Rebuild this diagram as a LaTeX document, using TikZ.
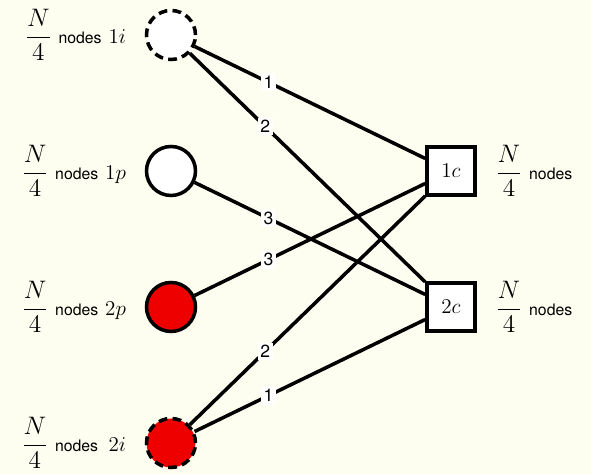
\documentclass[tikz,border=0pt]{standalone}
\usepackage{amsmath}
\usepackage{fontspec}
\setsansfont{TeX Gyre Heros}
\definecolor{cCream}{HTML}{FDFDF0}
\definecolor{cRed}{HTML}{EE0000}
\usetikzlibrary{positioning}

\newcommand{\quarter}{{\Large$\dfrac{N}{4}$}}

\begin{document}
\begin{tikzpicture}[
		agent/.style={circle, draw, line width=2pt, minimum size=0.98cm, inner sep=0pt, fill=white},
		idle/.style={dash pattern=on 5pt off 3pt},
		chan/.style={rectangle, draw, line width=2pt, minimum size=0.96cm, inner sep=0pt, fill=white, font=\large},
		link/.style={line width=2pt},
		num/.style={fill=white, inner sep=1.5pt, font=\sffamily, pos=0.32},
		tag/.style={inner sep=2pt, font=\large}
	]
			\fill [cCream] (0,0) rectangle (11.82,9.48);
			\useasboundingbox (0,0) rectangle (11.82,9.48);
			\node [agent, idle] (n1i) at (3.42,8.78) {};
			\node [agent] (n1p) at (3.42,6.06) {};
			\node [agent, fill=cRed] (n2p) at (3.42,3.34) {};
			\node [agent, idle, fill=cRed] (n2i) at (3.42,0.62) {};
			\node [chan] (n1c) at (9.02,6.06) {$1c$};
			\node [chan] (n2c) at (9.02,3.34) {$2c$};
			\node [tag, left=0.3cm of n1i] (t1i) {\quarter\ {\sffamily\small nodes} $1i$};
			\node [tag, left=0.3cm of n1p] (t1p) {\quarter\ {\sffamily\small nodes} $1p$};
			\node [tag, left=0.3cm of n2p] (t2p) {\quarter\ {\sffamily\small nodes} $2p$};
			\node [tag, left=0.3cm of n2i] (t2i) {\quarter\ {\sffamily\small nodes}\, $2i$};
			\node [tag, right=0.3cm of n1c] (t1c) {\quarter\ {\sffamily\small nodes}};
			\node [tag, right=0.3cm of n2c] (t2c) {\quarter\ {\sffamily\small nodes}};
			\draw [link] (n1i) -- (n1c) node [num] {1};
			\draw [link] (n1i) -- (n2c) node [num] {2};
			\draw [link] (n1p) -- (n2c) node [num] {3};
			\draw [link] (n2p) -- (n1c) node [num] {3};
			\draw [link] (n2i) -- (n1c) node [num] {2};
			\draw [link] (n2i) -- (n2c) node [num] {1};
		\end{tikzpicture}
\end{document}
